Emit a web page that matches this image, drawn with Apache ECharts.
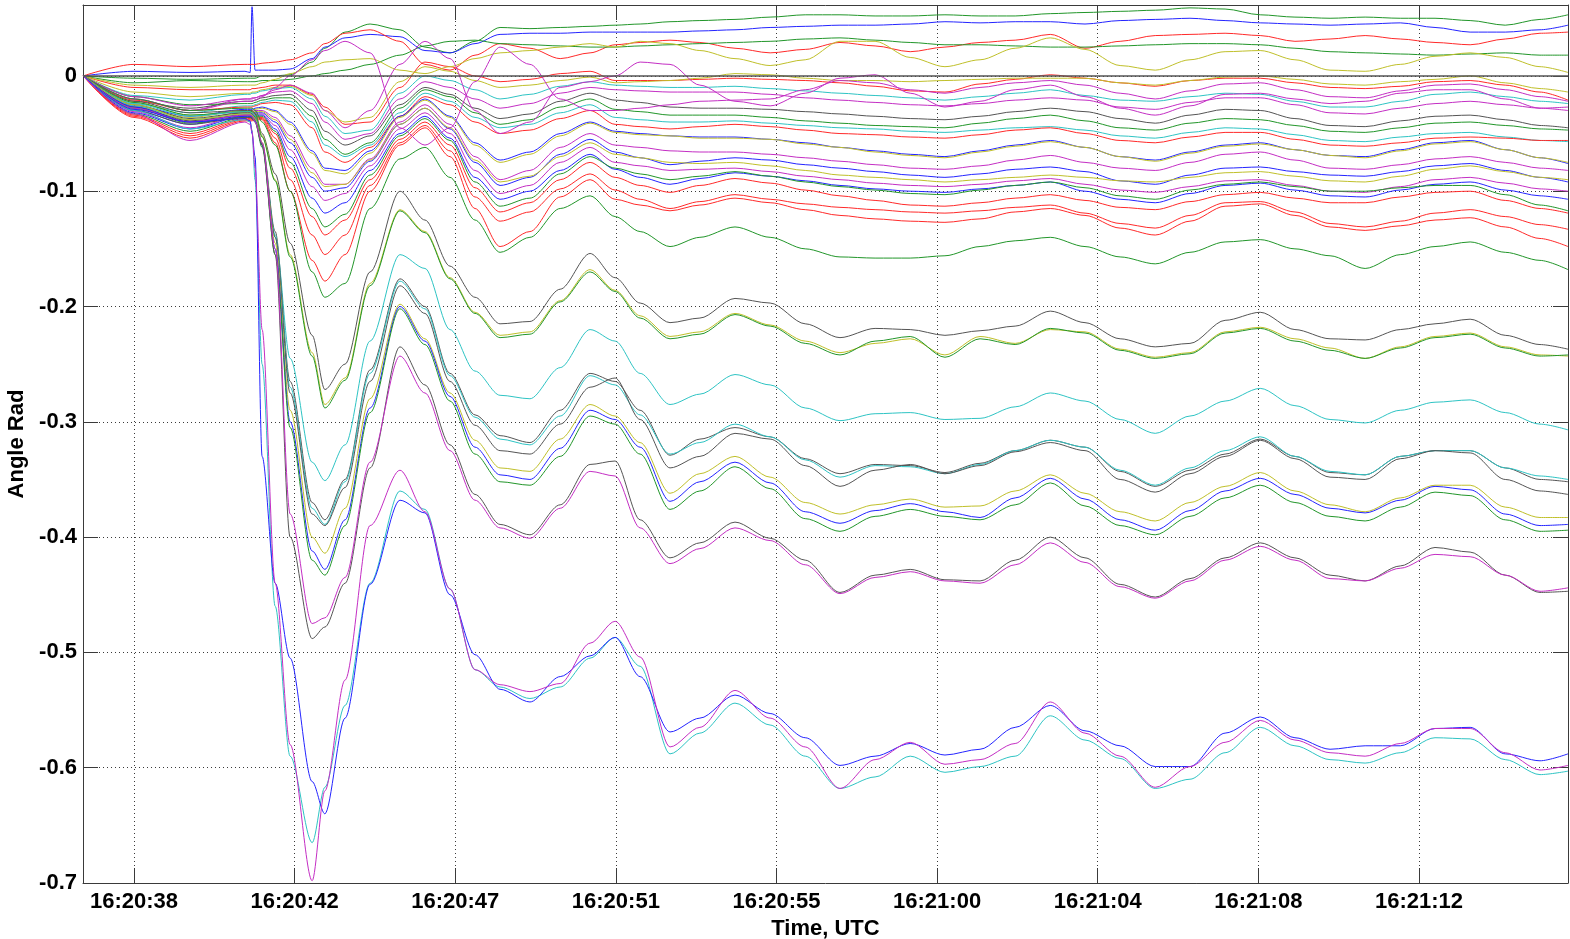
<!DOCTYPE html>
<html>
<head>
<meta charset="utf-8">
<title>Angle Rad</title>
<script src="https://cdn.jsdelivr.net/npm/echarts@6/dist/echarts.min.js"></script>
<style>
  html, body { margin: 0; padding: 0; background: #fff; }
  #chart { width: 1570px; height: 939px; }
</style>
</head>
<body>
<div id="chart"></div>
<script>
// sample times, seconds after 16:20:00 UTC
var timeSec = [37.19, 38.55, 40.05, 41.52, 41.66, 41.71, 41.79, 41.98, 42.33, 42.73, 43.32, 43.66,
  44.20, 44.87, 45.67, 46.34, 47.01, 47.68, 48.35, 49.15, 49.96, 50.76, 51.43, 52.10,
  52.90, 53.70, 54.64, 55.58, 56.52, 57.45, 58.39, 59.33, 60.26, 61.20, 62.14, 63.08,
  64.01, 64.95, 65.89, 66.82, 67.76, 68.70, 69.63, 70.57, 71.51, 72.45, 73.38, 74.32,
  75.26, 76.19, 76.94];

// x axis ticks
var tickTimes = [38.55, 42.85, 47.15, 51.45, 55.75, 60.05, 64.35, 68.65, 72.95];
var tickLabels = ['16:20:38', '16:20:42', '16:20:47', '16:20:51', '16:20:55', '16:21:00', '16:21:04', '16:21:08', '16:21:12'];

// --- angle series (rad) ---
// bottom group
var angA1 = [0, -0.033, -0.056, -0.040, -0.042, -0.048, -0.080, -0.220, -0.440, -0.580, -0.698, -0.620, -0.524, -0.390, -0.342, -0.378, -0.445, -0.515, -0.528, -0.534, -0.527, -0.492,
  -0.473, -0.504, -0.582, -0.565, -0.533, -0.557, -0.582, -0.618, -0.593, -0.578, -0.597, -0.593, -0.579, -0.543, -0.570, -0.590, -0.617, -0.599, -0.578, -0.559, -0.576, -0.587, -0.590, -0.579, -0.566, -0.566, -0.587, -0.602, -0.598];
var angA2 = [0, -0.030, -0.046, -0.038, -0.040, -0.047, -0.090, -0.250, -0.460, -0.590, -0.665, -0.617, -0.546, -0.440, -0.360, -0.376, -0.445, -0.515, -0.530, -0.540, -0.530, -0.505,
  -0.487, -0.512, -0.588, -0.570, -0.544, -0.563, -0.590, -0.618, -0.608, -0.590, -0.604, -0.599, -0.590, -0.555, -0.576, -0.592, -0.618, -0.610, -0.587, -0.565, -0.581, -0.593, -0.596, -0.587, -0.574, -0.575, -0.593, -0.606, -0.603];
var angA3 = [0, -0.029, -0.040, -0.037, -0.039, -0.050, -0.070, -0.330, -0.440, -0.505, -0.612, -0.640, -0.557, -0.441, -0.368, -0.379, -0.450, -0.502, -0.532, -0.543, -0.521, -0.503,
  -0.487, -0.521, -0.569, -0.557, -0.537, -0.553, -0.574, -0.598, -0.590, -0.579, -0.589, -0.584, -0.565, -0.546, -0.568, -0.581, -0.599, -0.599, -0.570, -0.556, -0.574, -0.584, -0.581, -0.581, -0.566, -0.565, -0.588, -0.594, -0.588];
// -0.45 group
var angB1 = [0, -0.030, -0.042, -0.036, -0.036, -0.037, -0.040, -0.060, -0.155, -0.400, -0.488, -0.478, -0.440, -0.340, -0.235, -0.268, -0.320, -0.363, -0.389, -0.398, -0.372, -0.337,
  -0.334, -0.385, -0.418, -0.405, -0.387, -0.401, -0.420, -0.448, -0.433, -0.428, -0.437, -0.438, -0.420, -0.400, -0.418, -0.441, -0.452, -0.436, -0.418, -0.405, -0.418, -0.433, -0.438, -0.425, -0.409, -0.413, -0.433, -0.448, -0.447];
var angB2 = [0, -0.028, -0.040, -0.034, -0.034, -0.035, -0.040, -0.058, -0.150, -0.380, -0.475, -0.470, -0.435, -0.335, -0.243, -0.275, -0.325, -0.368, -0.392, -0.401, -0.375, -0.343,
  -0.347, -0.392, -0.423, -0.410, -0.392, -0.403, -0.424, -0.449, -0.435, -0.430, -0.438, -0.440, -0.424, -0.405, -0.422, -0.443, -0.453, -0.438, -0.420, -0.408, -0.420, -0.436, -0.438, -0.427, -0.415, -0.417, -0.433, -0.447, -0.444];
// -0.39 group
var angC1 = [0, -0.025, -0.038, -0.033, -0.033, -0.034, -0.037, -0.058, -0.145, -0.290, -0.400, -0.414, -0.375, -0.280, -0.198, -0.228, -0.275, -0.316, -0.340, -0.343, -0.315, -0.285,
  -0.295, -0.318, -0.362, -0.345, -0.330, -0.348, -0.370, -0.380, -0.372, -0.367, -0.374, -0.373, -0.360, -0.346, -0.362, -0.378, -0.386, -0.370, -0.356, -0.344, -0.360, -0.372, -0.378, -0.366, -0.355, -0.355, -0.374, -0.383, -0.383];
var angC2 = [0, -0.027, -0.040, -0.035, -0.035, -0.036, -0.039, -0.060, -0.150, -0.300, -0.412, -0.428, -0.385, -0.288, -0.200, -0.230, -0.278, -0.322, -0.346, -0.350, -0.323, -0.290,
  -0.298, -0.322, -0.369, -0.352, -0.335, -0.353, -0.378, -0.388, -0.377, -0.371, -0.378, -0.383, -0.366, -0.349, -0.367, -0.385, -0.394, -0.377, -0.360, -0.349, -0.363, -0.375, -0.379, -0.368, -0.356, -0.359, -0.380, -0.390, -0.389];
var angC3 = [0, -0.028, -0.041, -0.036, -0.036, -0.037, -0.040, -0.062, -0.155, -0.305, -0.420, -0.433, -0.390, -0.292, -0.202, -0.233, -0.282, -0.328, -0.352, -0.355, -0.330, -0.295,
  -0.302, -0.328, -0.376, -0.360, -0.339, -0.358, -0.384, -0.395, -0.382, -0.376, -0.382, -0.385, -0.372, -0.353, -0.373, -0.390, -0.398, -0.382, -0.366, -0.355, -0.370, -0.382, -0.386, -0.374, -0.361, -0.364, -0.385, -0.395, -0.394];
// -0.35 group
var angD1 = [0, -0.025, -0.037, -0.032, -0.032, -0.033, -0.036, -0.058, -0.135, -0.265, -0.370, -0.385, -0.350, -0.255, -0.176, -0.200, -0.258, -0.294, -0.312, -0.318, -0.290, -0.258,
  -0.265, -0.290, -0.329, -0.315, -0.305, -0.313, -0.332, -0.345, -0.337, -0.338, -0.344, -0.336, -0.325, -0.316, -0.322, -0.343, -0.356, -0.342, -0.328, -0.315, -0.330, -0.344, -0.346, -0.330, -0.325, -0.325, -0.340, -0.350, -0.352];
var angD2 = [0, -0.026, -0.038, -0.033, -0.033, -0.034, -0.037, -0.059, -0.138, -0.270, -0.375, -0.389, -0.352, -0.258, -0.178, -0.202, -0.260, -0.296, -0.315, -0.320, -0.295, -0.260,
  -0.268, -0.294, -0.328, -0.318, -0.302, -0.313, -0.333, -0.348, -0.338, -0.339, -0.345, -0.337, -0.325, -0.316, -0.322, -0.342, -0.355, -0.340, -0.325, -0.313, -0.330, -0.343, -0.346, -0.330, -0.325, -0.325, -0.340, -0.347, -0.350];
var angD3 = [0, -0.027, -0.039, -0.034, -0.034, -0.035, -0.038, -0.060, -0.140, -0.275, -0.380, -0.390, -0.357, -0.265, -0.182, -0.206, -0.265, -0.303, -0.325, -0.328, -0.302, -0.270,
  -0.262, -0.298, -0.340, -0.330, -0.310, -0.315, -0.338, -0.356, -0.342, -0.337, -0.345, -0.338, -0.326, -0.318, -0.325, -0.350, -0.361, -0.345, -0.330, -0.316, -0.332, -0.348, -0.350, -0.332, -0.325, -0.327, -0.350, -0.360, -0.363];
// -0.30 line
var angE1 = [0, -0.024, -0.035, -0.031, -0.031, -0.032, -0.035, -0.060, -0.140, -0.245, -0.335, -0.351, -0.320, -0.230, -0.155, -0.167, -0.220, -0.256, -0.277, -0.280, -0.253, -0.220,
  -0.230, -0.258, -0.285, -0.276, -0.259, -0.268, -0.288, -0.299, -0.293, -0.292, -0.298, -0.297, -0.287, -0.275, -0.282, -0.298, -0.310, -0.295, -0.282, -0.271, -0.286, -0.298, -0.301, -0.290, -0.283, -0.281, -0.292, -0.302, -0.307];
// -0.24 group
var angF1 = [0, -0.022, -0.032, -0.030, -0.030, -0.030, -0.032, -0.050, -0.085, -0.145, -0.225, -0.272, -0.250, -0.170, -0.100, -0.125, -0.165, -0.192, -0.215, -0.213, -0.185, -0.154,
  -0.175, -0.197, -0.214, -0.210, -0.193, -0.197, -0.215, -0.227, -0.219, -0.220, -0.225, -0.221, -0.217, -0.204, -0.214, -0.228, -0.235, -0.232, -0.212, -0.205, -0.220, -0.228, -0.229, -0.220, -0.215, -0.211, -0.225, -0.233, -0.237];
var angF2 = [0, -0.023, -0.034, -0.031, -0.031, -0.031, -0.033, -0.052, -0.090, -0.155, -0.240, -0.285, -0.262, -0.180, -0.116, -0.135, -0.175, -0.205, -0.225, -0.222, -0.195, -0.168,
  -0.186, -0.208, -0.226, -0.222, -0.206, -0.216, -0.230, -0.240, -0.232, -0.228, -0.242, -0.226, -0.232, -0.220, -0.222, -0.237, -0.244, -0.240, -0.222, -0.218, -0.228, -0.236, -0.245, -0.235, -0.226, -0.223, -0.235, -0.242, -0.243];
var angF3 = [0, -0.023, -0.034, -0.031, -0.031, -0.031, -0.033, -0.053, -0.091, -0.157, -0.243, -0.288, -0.264, -0.182, -0.117, -0.136, -0.176, -0.206, -0.227, -0.224, -0.196, -0.170,
  -0.187, -0.210, -0.228, -0.224, -0.207, -0.217, -0.232, -0.242, -0.230, -0.226, -0.244, -0.228, -0.233, -0.219, -0.223, -0.238, -0.245, -0.241, -0.223, -0.219, -0.230, -0.238, -0.245, -0.236, -0.227, -0.224, -0.236, -0.243, -0.242];
// -0.16 line
var angG1 = [0, -0.020, -0.030, -0.028, -0.028, -0.028, -0.030, -0.040, -0.060, -0.100, -0.170, -0.192, -0.180, -0.115, -0.072, -0.062, -0.088, -0.125, -0.153, -0.140, -0.115, -0.104,
  -0.122, -0.135, -0.148, -0.140, -0.131, -0.140, -0.150, -0.157, -0.158, -0.158, -0.156, -0.148, -0.143, -0.140, -0.148, -0.157, -0.163, -0.153, -0.144, -0.142, -0.150, -0.156, -0.167, -0.155, -0.148, -0.144, -0.153, -0.160, -0.168];
// middle band
var angM1 = [0, -0.010, -0.012, -0.012, -0.012, -0.011, -0.011, -0.010, -0.008, -0.008, -0.016, -0.027, -0.042, -0.040, -0.010, 0.012, 0.008, 0.000, -0.005, -0.003, 0.002, 0.004,
  -0.004, -0.004, -0.004, -0.003, -0.002, -0.003, -0.004, -0.006, -0.009, -0.013, -0.014, -0.007, -0.003, 0.001, -0.002, -0.006, -0.009, -0.004, -0.002, -0.002, -0.006, -0.010, -0.011, -0.009, -0.005, -0.004, -0.008, -0.014, -0.021];
var angM2 = [0, -0.014, -0.018, -0.015, -0.015, -0.014, -0.014, -0.012, -0.010, -0.009, -0.017, -0.030, -0.040, -0.036, -0.005, 0.008, 0.004, -0.004, -0.010, -0.008, -0.004, -0.001,
  -0.006, -0.005, -0.004, -0.002, 0.002, 0.001, -0.002, -0.004, -0.004, -0.005, -0.004, -0.003, -0.002, -0.002, -0.002, -0.006, -0.008, -0.004, -0.001, 0.000, -0.003, -0.007, -0.008, -0.005, -0.003, 0.000, -0.006, -0.011, -0.014];
var angM3 = [0, -0.017, -0.021, -0.016, -0.016, -0.015, -0.015, -0.013, -0.011, -0.010, -0.020, -0.035, -0.050, -0.047, -0.015, 0.000, -0.004, -0.012, -0.020, -0.016, -0.009, -0.005,
  -0.008, -0.009, -0.010, -0.010, -0.009, -0.011, -0.013, -0.015, -0.017, -0.019, -0.021, -0.018, -0.015, -0.012, -0.017, -0.021, -0.022, -0.018, -0.015, -0.016, -0.022, -0.027, -0.027, -0.022, -0.016, -0.014, -0.018, -0.022, -0.024];
var angM4 = [0, -0.020, -0.030, -0.020, -0.020, -0.019, -0.019, -0.017, -0.014, -0.013, -0.024, -0.040, -0.055, -0.050, -0.020, -0.005, -0.010, -0.020, -0.028, -0.024, -0.015, -0.010,
  -0.012, -0.013, -0.014, -0.014, -0.014, -0.016, -0.019, -0.021, -0.023, -0.025, -0.026, -0.024, -0.021, -0.019, -0.021, -0.027, -0.029, -0.023, -0.019, -0.019, -0.025, -0.032, -0.033, -0.028, -0.024, -0.022, -0.025, -0.028, -0.027];
var angM5 = [0, -0.022, -0.028, -0.022, -0.022, -0.022, -0.021, -0.019, -0.017, -0.016, -0.030, -0.048, -0.060, -0.052, -0.025, -0.010, -0.016, -0.028, -0.037, -0.033, -0.022, -0.015,
  -0.021, -0.023, -0.027, -0.028, -0.028, -0.029, -0.031, -0.033, -0.035, -0.037, -0.038, -0.035, -0.031, -0.028, -0.031, -0.037, -0.041, -0.034, -0.029, -0.030, -0.037, -0.043, -0.044, -0.039, -0.035, -0.034, -0.038, -0.043, -0.045];
var angM6 = [0, -0.018, -0.025, -0.024, -0.024, -0.024, -0.023, -0.021, -0.019, -0.019, -0.035, -0.055, -0.068, -0.058, -0.028, -0.012, -0.018, -0.032, -0.042, -0.038, -0.027, -0.020,
  -0.029, -0.031, -0.034, -0.034, -0.034, -0.036, -0.039, -0.041, -0.043, -0.044, -0.045, -0.041, -0.037, -0.034, -0.039, -0.045, -0.047, -0.041, -0.037, -0.038, -0.043, -0.048, -0.049, -0.045, -0.041, -0.040, -0.043, -0.046, -0.047];
var angM7 = [0, -0.024, -0.032, -0.026, -0.026, -0.026, -0.025, -0.023, -0.021, -0.022, -0.040, -0.060, -0.070, -0.060, -0.032, -0.015, -0.022, -0.036, -0.045, -0.042, -0.032, -0.025,
  -0.036, -0.038, -0.040, -0.040, -0.039, -0.041, -0.043, -0.045, -0.046, -0.048, -0.049, -0.047, -0.045, -0.044, -0.047, -0.052, -0.054, -0.049, -0.045, -0.046, -0.051, -0.056, -0.057, -0.053, -0.050, -0.049, -0.053, -0.056, -0.057];
var angM8 = [0, -0.021, -0.030, -0.027, -0.027, -0.027, -0.026, -0.024, -0.023, -0.025, -0.045, -0.066, -0.075, -0.062, -0.035, -0.018, -0.025, -0.040, -0.050, -0.047, -0.037, -0.030,
  -0.042, -0.044, -0.046, -0.044, -0.042, -0.044, -0.047, -0.050, -0.051, -0.053, -0.054, -0.051, -0.047, -0.045, -0.050, -0.056, -0.058, -0.053, -0.049, -0.049, -0.055, -0.060, -0.061, -0.058, -0.054, -0.053, -0.054, -0.056, -0.056];
var angM9 = [0, -0.026, -0.035, -0.029, -0.029, -0.029, -0.028, -0.027, -0.030, -0.040, -0.065, -0.080, -0.082, -0.065, -0.035, -0.020, -0.035, -0.058, -0.073, -0.066, -0.050, -0.040,
  -0.048, -0.050, -0.052, -0.053, -0.053, -0.055, -0.058, -0.062, -0.065, -0.068, -0.070, -0.065, -0.060, -0.056, -0.062, -0.070, -0.073, -0.066, -0.060, -0.058, -0.064, -0.069, -0.070, -0.064, -0.058, -0.056, -0.064, -0.071, -0.076];
var angM9b = [0, -0.027, -0.036, -0.030, -0.030, -0.030, -0.029, -0.028, -0.031, -0.042, -0.067, -0.082, -0.085, -0.067, -0.036, -0.021, -0.036, -0.060, -0.075, -0.068, -0.052, -0.041,
  -0.049, -0.051, -0.052, -0.054, -0.054, -0.055, -0.059, -0.062, -0.066, -0.069, -0.071, -0.066, -0.061, -0.057, -0.062, -0.070, -0.074, -0.067, -0.061, -0.059, -0.064, -0.069, -0.071, -0.065, -0.059, -0.057, -0.064, -0.071, -0.075];
var angM10 = [0, -0.028, -0.040, -0.031, -0.031, -0.031, -0.030, -0.030, -0.036, -0.052, -0.080, -0.094, -0.094, -0.072, -0.040, -0.025, -0.042, -0.070, -0.090, -0.082, -0.062, -0.050,
  -0.060, -0.062, -0.065, -0.066, -0.066, -0.068, -0.071, -0.074, -0.077, -0.080, -0.081, -0.078, -0.073, -0.069, -0.075, -0.080, -0.082, -0.075, -0.068, -0.066, -0.073, -0.080, -0.081, -0.077, -0.072, -0.070, -0.075, -0.080, -0.082];
var angM11 = [0, -0.030, -0.042, -0.033, -0.033, -0.033, -0.032, -0.032, -0.040, -0.058, -0.088, -0.100, -0.097, -0.074, -0.042, -0.028, -0.046, -0.075, -0.095, -0.088, -0.068, -0.055,
  -0.066, -0.071, -0.077, -0.074, -0.071, -0.073, -0.077, -0.080, -0.083, -0.086, -0.088, -0.085, -0.081, -0.079, -0.083, -0.091, -0.094, -0.086, -0.080, -0.079, -0.083, -0.086, -0.087, -0.083, -0.078, -0.076, -0.082, -0.088, -0.092];
var angM12 = [0, -0.029, -0.038, -0.032, -0.032, -0.032, -0.031, -0.031, -0.038, -0.055, -0.084, -0.096, -0.094, -0.073, -0.042, -0.028, -0.045, -0.073, -0.092, -0.087, -0.070, -0.058,
  -0.068, -0.071, -0.075, -0.076, -0.075, -0.078, -0.082, -0.086, -0.088, -0.090, -0.092, -0.090, -0.088, -0.086, -0.088, -0.091, -0.092, -0.088, -0.084, -0.083, -0.087, -0.091, -0.092, -0.087, -0.081, -0.078, -0.083, -0.088, -0.090];
var angM13 = [0, -0.031, -0.045, -0.034, -0.034, -0.034, -0.033, -0.033, -0.043, -0.064, -0.096, -0.108, -0.102, -0.078, -0.046, -0.032, -0.050, -0.082, -0.102, -0.095, -0.075, -0.062,
  -0.075, -0.078, -0.082, -0.081, -0.080, -0.083, -0.087, -0.090, -0.093, -0.095, -0.096, -0.094, -0.091, -0.089, -0.094, -0.099, -0.101, -0.096, -0.091, -0.090, -0.095, -0.100, -0.101, -0.096, -0.090, -0.088, -0.093, -0.098, -0.100];
var angM14 = [0, -0.032, -0.046, -0.035, -0.035, -0.035, -0.034, -0.034, -0.046, -0.070, -0.106, -0.119, -0.110, -0.082, -0.050, -0.035, -0.054, -0.088, -0.107, -0.100, -0.082, -0.068,
  -0.081, -0.088, -0.094, -0.089, -0.084, -0.087, -0.091, -0.095, -0.098, -0.100, -0.101, -0.098, -0.095, -0.092, -0.100, -0.107, -0.110, -0.102, -0.095, -0.093, -0.099, -0.104, -0.105, -0.099, -0.094, -0.092, -0.099, -0.104, -0.107];
var angM15 = [0, -0.033, -0.048, -0.036, -0.036, -0.036, -0.035, -0.035, -0.048, -0.075, -0.115, -0.131, -0.120, -0.086, -0.052, -0.037, -0.056, -0.092, -0.113, -0.106, -0.085, -0.070,
  -0.080, -0.085, -0.090, -0.087, -0.083, -0.087, -0.092, -0.096, -0.099, -0.102, -0.103, -0.099, -0.095, -0.092, -0.097, -0.104, -0.107, -0.099, -0.094, -0.092, -0.096, -0.100, -0.100, -0.097, -0.095, -0.095, -0.103, -0.112, -0.117];
var angM16 = [0, -0.034, -0.050, -0.037, -0.037, -0.037, -0.036, -0.036, -0.050, -0.080, -0.122, -0.138, -0.125, -0.090, -0.055, -0.040, -0.060, -0.097, -0.118, -0.110, -0.090, -0.075,
  -0.088, -0.095, -0.101, -0.095, -0.089, -0.093, -0.099, -0.104, -0.108, -0.112, -0.113, -0.110, -0.106, -0.103, -0.108, -0.114, -0.116, -0.109, -0.103, -0.101, -0.106, -0.110, -0.110, -0.105, -0.101, -0.100, -0.108, -0.115, -0.119];
var angM17 = [0, -0.035, -0.052, -0.038, -0.038, -0.038, -0.037, -0.037, -0.054, -0.090, -0.138, -0.155, -0.138, -0.095, -0.058, -0.043, -0.065, -0.105, -0.126, -0.118, -0.098, -0.085,
  -0.099, -0.107, -0.115, -0.109, -0.103, -0.107, -0.111, -0.114, -0.116, -0.118, -0.119, -0.117, -0.114, -0.112, -0.119, -0.128, -0.132, -0.121, -0.110, -0.109, -0.118, -0.128, -0.131, -0.126, -0.119, -0.116, -0.122, -0.129, -0.133];
var angM18 = [0, -0.036, -0.054, -0.039, -0.039, -0.039, -0.038, -0.038, -0.058, -0.100, -0.160, -0.178, -0.155, -0.100, -0.060, -0.045, -0.070, -0.115, -0.148, -0.135, -0.105, -0.090,
  -0.107, -0.112, -0.117, -0.112, -0.106, -0.110, -0.116, -0.121, -0.124, -0.126, -0.127, -0.124, -0.118, -0.115, -0.121, -0.132, -0.138, -0.126, -0.113, -0.111, -0.121, -0.131, -0.134, -0.130, -0.125, -0.123, -0.131, -0.141, -0.148];
// lines above zero
var angT1 = [0, -0.002, -0.003, -0.002, -0.002, -0.002, -0.002, 0.000, 0.000, 0.001, 0.012, 0.024, 0.038, 0.045, 0.040, 0.025, 0.020, 0.030, 0.042, 0.041, 0.042, 0.043,
  0.044, 0.045, 0.047, 0.048, 0.049, 0.051, 0.053, 0.053, 0.052, 0.052, 0.053, 0.052, 0.052, 0.054, 0.055, 0.056, 0.057, 0.059, 0.058, 0.053, 0.051, 0.050, 0.051, 0.050, 0.050, 0.048, 0.044, 0.049, 0.053];
var angT2 = [0, 0.004, 0.003, 0.004, 0.003, 0.060, 0.005, 0.005, 0.005, 0.006, 0.015, 0.025, 0.033, 0.036, 0.034, 0.022, 0.020, 0.028, 0.036, 0.037, 0.037, 0.038,
  0.038, 0.038, 0.038, 0.039, 0.040, 0.042, 0.043, 0.044, 0.044, 0.045, 0.047, 0.046, 0.047, 0.047, 0.045, 0.048, 0.049, 0.050, 0.048, 0.046, 0.045, 0.044, 0.045, 0.046, 0.042, 0.038, 0.038, 0.040, 0.044];
var angT3 = [0, 0.010, 0.008, 0.010, 0.010, 0.010, 0.010, 0.011, 0.012, 0.014, 0.020, 0.028, 0.037, 0.040, 0.030, 0.010, 0.005, 0.018, 0.028, 0.024, 0.015, 0.020,
  0.027, 0.029, 0.031, 0.029, 0.024, 0.020, 0.023, 0.029, 0.026, 0.021, 0.025, 0.029, 0.031, 0.036, 0.024, 0.030, 0.035, 0.036, 0.037, 0.035, 0.030, 0.032, 0.035, 0.032, 0.029, 0.027, 0.032, 0.037, 0.038];
var angT4 = [0, -0.006, -0.004, -0.005, -0.005, -0.005, -0.005, -0.004, -0.004, -0.003, 0.000, 0.002, 0.005, 0.010, 0.018, 0.026, 0.030, 0.031, 0.028, 0.027, 0.026, 0.025,
  0.025, 0.026, 0.027, 0.028, 0.029, 0.030, 0.032, 0.033, 0.031, 0.029, 0.027, 0.027, 0.026, 0.025, 0.025, 0.026, 0.027, 0.028, 0.028, 0.027, 0.024, 0.021, 0.020, 0.019, 0.018, 0.019, 0.020, 0.018, 0.018];
var angT5 = [0, -0.008, -0.010, -0.008, -0.008, -0.008, -0.008, -0.006, -0.003, 0.002, 0.008, 0.012, 0.014, 0.015, 0.005, 0.002, 0.008, 0.015, 0.020, 0.022, 0.025, 0.028,
  0.025, 0.030, 0.028, 0.022, 0.015, 0.009, 0.014, 0.030, 0.030, 0.016, 0.008, 0.014, 0.024, 0.033, 0.023, 0.009, 0.005, 0.014, 0.021, 0.022, 0.014, 0.005, 0.004, 0.010, 0.017, 0.020, 0.016, 0.008, 0.003];
// lines that cross the others
var angX1 = [0, -0.020, -0.030, -0.022, -0.022, -0.022, -0.021, -0.018, -0.010, 0.000, 0.014, 0.022, 0.030, 0.020, -0.045, -0.060, -0.045, -0.005, 0.025, 0.010, -0.020, -0.030,
  -0.030, -0.028, -0.025, -0.022, -0.021, -0.020, -0.012, -0.004, -0.006, -0.012, -0.015, -0.010, -0.006, -0.004, -0.008, -0.015, -0.020, -0.013, -0.007, -0.006, -0.012, -0.018, -0.019, -0.013, -0.008, -0.007, -0.012, -0.018, -0.022];
var angX2 = [0, -0.018, -0.026, -0.020, -0.020, -0.020, -0.019, -0.017, -0.012, -0.008, -0.015, -0.030, -0.045, -0.030, 0.010, 0.030, 0.015, -0.030, -0.050, -0.040, -0.010, -0.005,
  0.000, 0.012, 0.010, -0.008, -0.022, -0.026, -0.015, -0.002, 0.001, -0.015, -0.027, -0.022, -0.012, -0.008, -0.018, -0.028, -0.034, -0.026, -0.016, -0.015, -0.020, -0.024, -0.022, -0.015, -0.012, -0.012, -0.020, -0.028, -0.030];

// colours
var BLUE = '#2424ff', RED = '#ff2a2a', GREEN = '#22962a', CYAN = '#2ec4c4',
    MAGENTA = '#c42ec4', YELLOW = '#c0c02a', GRAY = '#555555';

// drawing order: first ones underneath
var lines = [
  [angM1, RED], [angM2, YELLOW], [angM3, CYAN], [angM4, MAGENTA], [angM5, GRAY],
  [angM6, GREEN], [angM7, CYAN], [angM8, RED], [angM9, BLUE], [angM9b, YELLOW],
  [angM10, MAGENTA], [angM11, BLUE], [angM12, YELLOW], [angM13, MAGENTA], [angM14, BLUE],
  [angM15, GREEN], [angM16, RED], [angM17, RED], [angM18, RED],
  [angT1, GREEN], [angT2, BLUE], [angT3, RED], [angT4, GREEN], [angT5, YELLOW],
  [angX1, MAGENTA], [angX2, MAGENTA],
  [angG1, GREEN], [angF1, GRAY], [angF2, YELLOW], [angF3, GREEN], [angE1, CYAN],
  [angD1, GRAY], [angD2, CYAN], [angD3, GRAY],
  [angC1, YELLOW], [angC2, BLUE], [angC3, GREEN],
  [angB1, GRAY], [angB2, MAGENTA],
  [angA2, CYAN], [angA3, BLUE], [angA1, MAGENTA]
];

lines.forEach(function (l, i) {
  if (l[0].length !== timeSec.length) {
    throw new Error('series ' + i + ' has ' + l[0].length + ' values, expected ' + timeSec.length);
  }
});

var FONT = "'Liberation Sans', Arial, sans-serif";
var labelStyle = { fontFamily: FONT, fontWeight: 'bold', fontSize: 22, color: '#000' };
var frameLine = { show: true, onZero: false, lineStyle: { color: '#3a3a3a', width: 1 } };
var gridLine = { show: true, lineStyle: { color: '#3a3a3a', width: 1, type: [1, 3] } };

var series = lines.map(function (l, i) {
  var s = {
    type: 'line',
    data: timeSec.map(function (t, k) { return [t, l[0][k]]; }),
    showSymbol: false,
    symbol: 'none',
    smooth: 0.3,
    smoothMonotone: 'x',
    silent: true,
    lineStyle: { width: 1, color: l[1] },
    itemStyle: { color: l[1] }
  };
  if (i === 0) {
    // zero reference line
    s.markLine = {
      silent: true, symbol: 'none', label: { show: false },
      lineStyle: { color: '#555', type: 'solid', width: 1.5 },
      data: [{ yAxis: 0 }]
    };
  }
  return s;
});

var myChart = echarts.init(document.getElementById('chart'), null, { renderer: 'canvas' });
myChart.setOption({
  animation: false,
  backgroundColor: '#fff',
  grid: { left: 83, right: 2, top: 5, bottom: 56, containLabel: false, outerBoundsMode: 'none' },
  xAxis: [
    {
      type: 'value', min: 37.185, max: 76.94, position: 'bottom',
      name: 'Time, UTC', nameLocation: 'middle', nameGap: 34,
      nameTextStyle: labelStyle,
      axisLine: frameLine,
      axisTick: { show: true, inside: true, length: 15, customValues: tickTimes, lineStyle: { color: '#3a3a3a' } },
      axisLabel: Object.assign({
        customValues: tickTimes, margin: 8,
        formatter: function (v) {
          for (var i = 0; i < tickTimes.length; i++) {
            if (Math.abs(tickTimes[i] - v) < 1e-6) return tickLabels[i];
          }
          return '';
        }
      }, labelStyle),
      splitLine: gridLine
    },
    {
      type: 'value', min: 37.185, max: 76.94, position: 'top',
      axisLine: frameLine,
      axisTick: { show: true, inside: true, length: 15, customValues: tickTimes, lineStyle: { color: '#3a3a3a' } },
      axisLabel: { show: false },
      splitLine: { show: false }
    }
  ],
  yAxis: [
    {
      type: 'value', min: -0.7, max: 0.0615, interval: 0.1, position: 'left',
      name: 'Angle Rad', nameLocation: 'middle', nameGap: 52, nameRotate: 90,
      nameTextStyle: labelStyle,
      axisLine: frameLine,
      axisTick: { show: true, inside: true, length: 15, lineStyle: { color: '#3a3a3a' } },
      axisLabel: Object.assign({
        margin: 6, showMaxLabel: false,
        formatter: function (v) { return Math.abs(v) < 1e-9 ? '0' : v.toFixed(1); }
      }, labelStyle),
      splitLine: gridLine
    },
    {
      type: 'value', min: -0.7, max: 0.0615, interval: 0.1, position: 'right',
      axisLine: frameLine,
      axisTick: { show: true, inside: true, length: 15, lineStyle: { color: '#3a3a3a' } },
      axisLabel: { show: false },
      splitLine: { show: false }
    }
  ],
  series: series
});

window.addEventListener('resize', myChart.resize);
</script>
</body>
</html>
